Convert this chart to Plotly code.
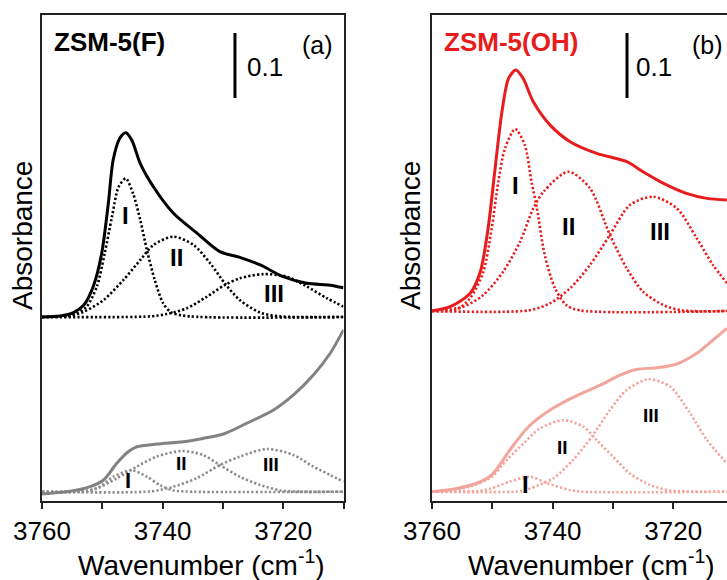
import plotly.graph_objects as go

# ---------------- data (wavenumber in cm-1, absorbance in a.u.) ----------------
OFF_A = 0.2688   # vertical offset of upper ZSM-5(F) spectrum
OFF_B = 0.278    # vertical offset of upper ZSM-5(OH) spectrum

# Panel (a) upper, black
a_tot_wn = [3760, 3757.0, 3754.8, 3753.1, 3751.5, 3750.1, 3749.0, 3748.2, 3747.1, 3746.1, 3745.1,
            3743.7, 3741.5, 3738.2, 3734.3, 3730.5, 3727.2, 3723.8, 3720.0, 3716.1, 3712.2, 3710]
a_tot = [0, 0.0015, 0.0067, 0.018, 0.047, 0.098, 0.175, 0.2415, 0.275, 0.2836, 0.272,
         0.236, 0.2, 0.1595, 0.129, 0.1005, 0.0918, 0.08, 0.062, 0.0518, 0.049, 0.045]
a_I_wn = [3760, 3754.8, 3752.6, 3750.9, 3749.6, 3748.4, 3747.3, 3746.1, 3744.9, 3743.7, 3742.6,
          3741.3, 3739.9, 3738.5, 3735.5, 3710]
a_I = [0, 0.003, 0.016, 0.047, 0.098, 0.154, 0.2, 0.213, 0.19, 0.149, 0.103,
       0.057, 0.021, 0.0067, 0.001, 0]
a_II_wn = [3760, 3756, 3753.1, 3749.8, 3746.5, 3743.7, 3741.5, 3738.2, 3734.9, 3732.1, 3729.7,
           3727.2, 3723.8, 3720.5, 3710]
a_II = [0, 0.001, 0.008, 0.026, 0.057, 0.0877, 0.111, 0.1236, 0.111, 0.0826, 0.052,
        0.026, 0.0067, 0.001, 0]
a_III_wn = [3760, 3742, 3739.3, 3736.0, 3732.7, 3729.7, 3727.2, 3723.3, 3719.4, 3716.1, 3712.8, 3710]
a_III = [0, 0.001, 0.0046, 0.0133, 0.031, 0.049, 0.0595, 0.066, 0.062, 0.047, 0.029, 0.016]

# Panel (a) lower, grey
a2_tot_wn = [3760, 3754.8, 3752.0, 3749.8, 3747.6, 3745.7, 3744.3, 3741.0, 3736.6, 3733.3, 3729.9,
             3726.1, 3721.6, 3718.3, 3715.0, 3712.2, 3710]
a2_tot = [-0.0035, 0.0015, 0.0077, 0.018, 0.0437, 0.0615, 0.069, 0.0734, 0.077, 0.082, 0.0888,
          0.105, 0.1257, 0.1488, 0.1795, 0.213, 0.249]
a2_I_wn = [3760, 3752.5, 3750.4, 3748.2, 3745.1, 3742.6, 3740.4, 3738.2, 3735, 3710]
a2_I = [0, 0.001, 0.0077, 0.023, 0.033, 0.023, 0.01, 0.002, 0, 0]
a2_II_wn = [3760, 3753.5, 3750.9, 3747.6, 3744.3, 3741.0, 3736.8, 3733.3, 3730.5, 3727.2,
            3723.8, 3720.5, 3717, 3710]
a2_II = [0, 0.0005, 0.005, 0.0206, 0.0385, 0.054, 0.0626, 0.0565, 0.041, 0.023,
         0.0103, 0.002, 0, 0]
a2_III_wn = [3760, 3742, 3738.2, 3734.4, 3730.5, 3727.2, 3722.7, 3718.3, 3715.0, 3712.2, 3710]
a2_III = [0, 0.0005, 0.0077, 0.0206, 0.041, 0.054, 0.0657, 0.0565, 0.0385, 0.0257, 0.0154]

# Panel (b) upper, red
b_tot_wn = [3760, 3757.0, 3753.7, 3752.0, 3750.7, 3749.6, 3748.4, 3747.3, 3746.1, 3744.9, 3743.2,
            3740.4, 3737.1, 3732.7, 3727.7, 3725.0, 3721.6, 3717.8, 3714.4, 3711.1]
b_tot = [0, 0.0067, 0.027, 0.060, 0.127, 0.214, 0.3066, 0.358, 0.3708, 0.358, 0.322,
         0.286, 0.2605, 0.2426, 0.2297, 0.2143, 0.1964, 0.181, 0.1733, 0.1708]
b_I_wn = [3760, 3756, 3753.7, 3751.5, 3750.1, 3749.0, 3747.9, 3746.2, 3744.6, 3743.5, 3742.6,
          3741.3, 3739.6, 3737.7, 3735.5, 3711.1]
b_I = [0, 0.002, 0.0195, 0.06, 0.127, 0.199, 0.25, 0.28, 0.255, 0.199, 0.158,
       0.086, 0.035, 0.009, 0.001, 0]
b_II_wn = [3760, 3754.8, 3751.5, 3748.2, 3745.4, 3743.2, 3741.5, 3737.4, 3733.8, 3730.5, 3727.7,
           3725.0, 3721.6, 3718.5, 3711.1]
b_II = [0, 0.0067, 0.0246, 0.0605, 0.1066, 0.158, 0.1835, 0.2143, 0.1888, 0.117, 0.0657,
        0.0297, 0.009, 0.001, 0]
b_III_wn = [3760, 3744, 3740.4, 3737.1, 3733.8, 3730.5, 3727.2, 3723.3, 3719.4, 3716.1, 3713.4, 3711.1]
b_III = [0, 0.001, 0.012, 0.035, 0.0708, 0.117, 0.163, 0.1758, 0.158, 0.112, 0.0708, 0.043]

# Panel (b) lower, pink
b2_tot_wn = [3760, 3755.9, 3752.6, 3750.1, 3747.1, 3744.0, 3740.4, 3736.6, 3732.1, 3728.8, 3726.1,
             3722.7, 3719.4, 3716.1, 3713.4, 3711.1]
b2_tot = [0, 0.005, 0.013, 0.0257, 0.064, 0.1, 0.1257, 0.145, 0.164, 0.1795, 0.188,
          0.1908, 0.1965, 0.213, 0.2334, 0.2514]
b2_I_wn = [3760, 3752.5, 3750.4, 3747.1, 3743.7, 3740.9, 3737.1, 3735, 3711.1]
b2_I = [0, 0.001, 0.0046, 0.0154, 0.023, 0.013, 0.0026, 0, 0]
b2_II_wn = [3760, 3753.7, 3750.1, 3747.6, 3744.8, 3742.1, 3738.2, 3734.9, 3732.7, 3730.0,
            3727.2, 3723.8, 3720.5, 3711.1]
b2_II = [0, 0.0077, 0.023, 0.0487, 0.0745, 0.0975, 0.110, 0.1, 0.0795, 0.054,
         0.028, 0.0103, 0.002, 0]
b2_III_wn = [3760, 3745, 3743.7, 3739.9, 3736.6, 3733.3, 3730.5, 3727.7, 3724.1, 3720.5,
             3717.2, 3714.4, 3711.1]
b2_III = [0, 0.001, 0.005, 0.0206, 0.0488, 0.0872, 0.1257, 0.1565, 0.173, 0.1615,
          0.1206, 0.0795, 0.0437]

major_ticks = [3760, 3740, 3720]
minor_ticks = [3750, 3730, 3710]
roman = ["I", "II", "III"]

# label positions (wavenumber, absorbance)
lab_a_up = [(3746.1, 0.4246), (3737.7, 0.3606), (3721.6, 0.3052)]
lab_a_lo = [(3745.7, 0.018), (3736.8, 0.0437), (3722.0, 0.0426)]
lab_b_up = [(3746.2, 0.4718), (3737.4, 0.4077), (3722.2, 0.400)]
lab_b_lo = [(3744.5, 0.0118), (3738.3, 0.068), (3723.7, 0.118)]

# ---------------- figure ----------------
W, H = 727, 580
FONT = "Liberation Sans, Arial, Helvetica, sans-serif"
BLACK = "#000000"
GREY = "#828282"
GREY_DOT = "#8c8c8c"
RED = "#e81c1c"
PINK = "#f2a59c"
DOT = "2.2px,2.2px"
AXC = "#222222"

fig = go.Figure()


def add_line(xs, ys, color, xa, ya, dotted, off=0.0, width=3):
    fig.add_trace(go.Scatter(
        x=xs, y=[v + off for v in ys], mode="lines", xaxis=xa, yaxis=ya,
        line=dict(color=color, width=(2.6 if dotted else width), shape="spline", smoothing=0.8,
                  dash=(DOT if dotted else "solid")),
        hoverinfo="skip", showlegend=False))


# panel (a)
for xs, ys in [(a_I_wn, a_I), (a_II_wn, a_II), (a_III_wn, a_III)]:
    add_line(xs, ys, BLACK, "x", "y", True, OFF_A)
add_line(a_tot_wn, a_tot, BLACK, "x", "y", False, OFF_A)
for xs, ys in [(a2_I_wn, a2_I), (a2_II_wn, a2_II), (a2_III_wn, a2_III)]:
    add_line(xs, ys, GREY_DOT, "x", "y", True)
add_line(a2_tot_wn, a2_tot, GREY, "x", "y", False)

# panel (b)
for xs, ys in [(b_I_wn, b_I), (b_II_wn, b_II), (b_III_wn, b_III)]:
    add_line(xs, ys, RED, "x2", "y2", True, OFF_B)
add_line(b_tot_wn, b_tot, RED, "x2", "y2", False, OFF_B)
for xs, ys in [(b2_I_wn, b2_I), (b2_II_wn, b2_II), (b2_III_wn, b2_III)]:
    add_line(xs, ys, PINK, "x2", "y2", True)
add_line(b2_tot_wn, b2_tot, PINK, "x2", "y2", False)

# geometry (pixels -> paper)
PX_LEFT_A, PX_RIGHT_A = 42, 343.5
PX_LEFT_B = 432
PX_TOP, PX_BOT = 15, 501
YDOM = [(H - PX_BOT) / H, (H - PX_TOP) / H]
YRANGE = [-0.0143, 0.7334]
XRANGE_B_END = 3760 - (W - PX_LEFT_B) / 6.03

axis_common = dict(showgrid=False, zeroline=False, showline=True, linecolor=AXC, linewidth=1.6,
                   automargin=False,
                   tickmode="array", tickvals=major_ticks, ticktext=[str(v) for v in major_ticks],
                   ticks="outside", ticklen=6, tickwidth=1.6, tickcolor=AXC,
                   minor=dict(tickmode="array", tickvals=minor_ticks, ticks="outside", ticklen=6,
                              tickwidth=1.6, tickcolor=AXC, showgrid=False),
                   tickfont=dict(family=FONT, size=26, color="black"))
yaxis_common = dict(domain=YDOM, range=YRANGE, showticklabels=False, ticks="", automargin=False,
                    showgrid=False, zeroline=False, showline=True, linecolor=AXC, linewidth=1.6)

fig.update_layout(
    template="none",
    width=W, height=H, margin=dict(l=0, r=0, t=0, b=0, pad=0, autoexpand=False),
    paper_bgcolor="white", plot_bgcolor="white",
    xaxis=dict(domain=[PX_LEFT_A / W, PX_RIGHT_A / W], range=[3760, 3710], anchor="y",
               mirror=True, **axis_common),
    yaxis=dict(anchor="x", mirror=True, **yaxis_common),
    xaxis2=dict(domain=[PX_LEFT_B / W, 1.0], range=[3760, XRANGE_B_END], anchor="y2",
                mirror=True, **axis_common),
    yaxis2=dict(anchor="x2", mirror=False, **yaxis_common),
    showlegend=False,
)

ann = []
# roman numeral labels
for labs, xr, yr, sizes in [(lab_a_up, "x", "y", [24, 24, 24]), (lab_a_lo, "x", "y", [22, 19, 19]),
                            (lab_b_up, "x2", "y2", [24, 24, 24]), (lab_b_lo, "x2", "y2", [24, 19, 19])]:
    for (wx, wy), r, s in zip(labs, roman, sizes):
        ann.append(dict(x=wx, y=wy, xref=xr, yref=yr, text="<b>%s</b>" % r, showarrow=False,
                        font=dict(family=FONT, size=s, color="black"), xanchor="center", yanchor="middle"))

# sample names
ann.append(dict(x=52 / W, y=1 - 42 / H, xref="paper", yref="paper", text="<b>ZSM-5(F)</b>", showarrow=False,
                font=dict(family=FONT, size=26, color="black"), xanchor="left", yanchor="middle"))
ann.append(dict(x=442 / W, y=1 - 42 / H, xref="paper", yref="paper", text="<b>ZSM-5(OH)</b>", showarrow=False,
                font=dict(family=FONT, size=26, color=RED), xanchor="left", yanchor="middle"))
# panel letters
ann.append(dict(x=317 / W, y=1 - 45 / H, xref="paper", yref="paper", text="(a)", showarrow=False,
                font=dict(family=FONT, size=25, color="black"), xanchor="center", yanchor="middle"))
ann.append(dict(x=707 / W, y=1 - 45 / H, xref="paper", yref="paper", text="(b)", showarrow=False,
                font=dict(family=FONT, size=25, color="black"), xanchor="center", yanchor="middle"))
# scale bar labels
ann.append(dict(x=245 / W, y=1 - 67 / H, xref="paper", yref="paper", text="0.1", showarrow=False,
                font=dict(family=FONT, size=26, color="black"), xanchor="left", yanchor="middle"))
ann.append(dict(x=634 / W, y=1 - 67 / H, xref="paper", yref="paper", text="0.1", showarrow=False,
                font=dict(family=FONT, size=26, color="black"), xanchor="left", yanchor="middle"))
# axis titles
for cx in [201, 591]:
    ann.append(dict(x=cx / W, y=1 - 563 / H, xref="paper", yref="paper",
                    text="Wavenumber (cm<sup>-1</sup>)", showarrow=False,
                    font=dict(family=FONT, size=28, color="black"), xanchor="center", yanchor="middle"))
for cx in [23, 411]:
    ann.append(dict(x=cx / W, y=1 - 236 / H, xref="paper", yref="paper", text="Absorbance",
                    showarrow=False, textangle=-90,
                    font=dict(family=FONT, size=28, color="black"), xanchor="center", yanchor="middle"))
fig.update_layout(annotations=ann)

# scale bars (0.1 absorbance)
fig.add_shape(type="line", xref="x", yref="y", x0=3728.0, x1=3728.0, y0=0.7057, y1=0.6057,
              line=dict(color="black", width=3))
fig.add_shape(type="line", xref="x2", yref="y2", x0=3727.66, x1=3727.66, y0=0.7057, y1=0.6057,
              line=dict(color="black", width=3))

fig.write_html("out.html", config={"displayModeBar": False},
               post_script="document.body.style.margin='0';document.body.style.overflow='hidden';")
